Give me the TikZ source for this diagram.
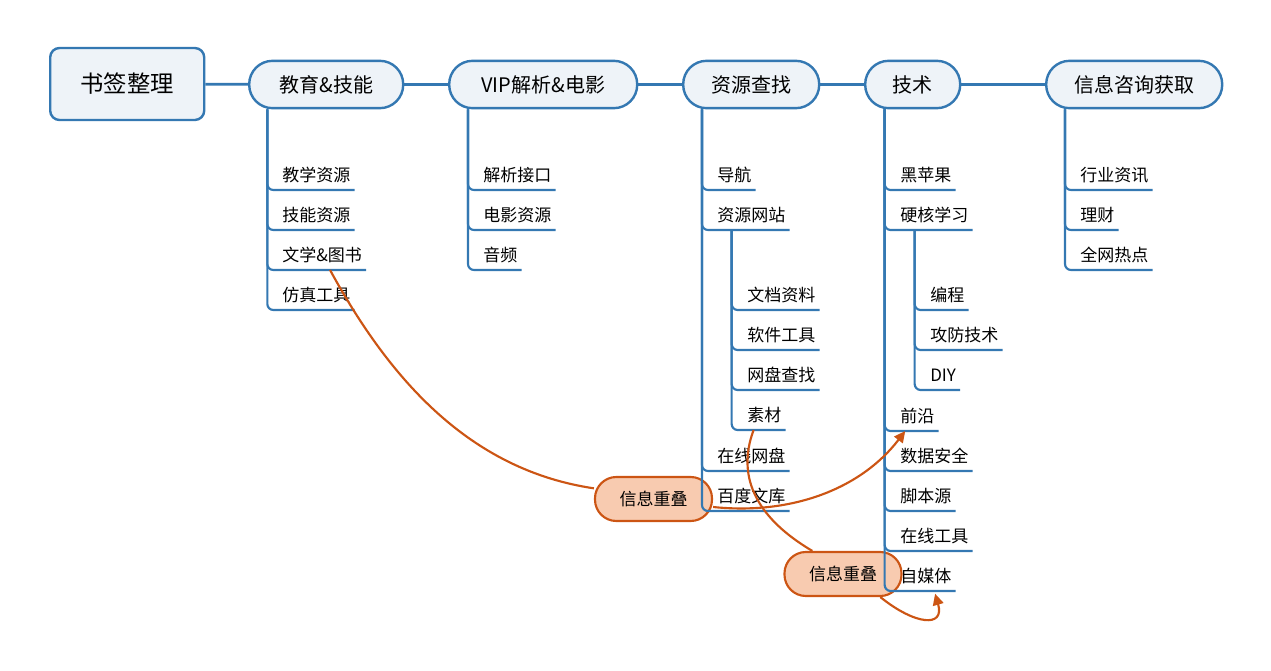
\documentclass[tikz,border=0pt]{standalone}
\usepackage{fontspec}
\setmainfont{Noto Sans CJK SC}
\usetikzlibrary{arrows.meta,positioning,calc}

\definecolor{mapblue}{RGB}{52,120,178}
\definecolor{mapfill}{RGB}{238,243,248}
\definecolor{linkred}{RGB}{204,85,20}
\definecolor{linkfill}{RGB}{248,203,176}

\tikzset{
  topic/.style={draw=mapblue,line width=1.8pt,fill=mapfill,rounded corners=17.5pt,
    minimum height=35.5pt,inner xsep=20pt,anchor=west,text=black,
    font=\fontsize{15}{18}\selectfont},
  rootbox/.style={topic,rounded corners=7pt,minimum width=115.5pt,minimum height=54pt,
    font=\fontsize{17.5}{21}\selectfont},
  item/.style={anchor=south west,inner xsep=3pt,inner ysep=4.5pt,text depth=1.5pt,
    text=black,font=\fontsize{12.75}{15}\selectfont},
  overlap/.style={draw=linkred,line width=1.6pt,fill=linkfill,rounded corners=16pt,
    minimum width=87.75pt,minimum height=33pt,text=black,
    font=\fontsize{12.75}{15}\selectfont},
  trunk/.style={draw=mapblue,line width=2pt},
  branch/.style={draw=mapblue,line width=1.6pt,rounded corners=4.5pt},
  link/.style={draw=linkred,line width=1.6pt},
  linkarrow/.style={link,-{Triangle[length=8.5pt,width=8pt]}}
}

\begin{document}
\begin{tikzpicture}[x=0.75pt,y=-0.75pt]
\useasboundingbox (0,0) rectangle (1271,671);

% Overlap markers (under the tree)
\node[overlap] (ov1) at (653.5,499) {信息重叠};
\node[overlap] (ov2) at (843,574) {信息重叠};

% Main topics
\node[rootbox] (root) at (49,84) {书签整理};
\node[topic,minimum width=115.5pt] (edu) at (248,84.5) {教育\&技能};
\node[topic,minimum width=141pt] (vip) at (448,84.5) {VIP解析\&电影};
\node[topic,minimum width=102pt] (res) at (682,84.5) {资源查找};
\node[topic,minimum width=71.25pt] (tech) at (864,84.5) {技术};
\node[topic,minimum width=132pt] (info) at (1045,84.5) {信息咨询获取};

\draw[trunk] (root) -- (edu);
\draw[trunk] (edu) -- (vip);
\draw[trunk] (vip) -- (res);
\draw[trunk] (res) -- (tech);
\draw[trunk] (tech) -- (info);

% Spine starts
\coordinate (eduS) at ([xshift=14.5pt]edu.south west);
\coordinate (vipS) at ([xshift=15pt]vip.south west);
\coordinate (resS) at ([xshift=15pt]res.south west);
\coordinate (techS) at ([xshift=15.5pt]tech.south west);
\coordinate (infoS) at ([xshift=15pt]info.south west);

% 教育&技能
\node[item] (jxzy) at (278,190) {教学资源};
\node[item] (jnzy) at (278,230) {技能资源};
\node[item] (wxts) at (278,270) {文学\&图书};
\node[item] (fzgj) at (278,310) {仿真工具};
\draw[branch] (eduS) |- (jxzy.south east);
\draw[branch] (eduS) |- (jnzy.south east);
\draw[branch] (eduS) |- (wxts.south east);
\draw[branch] (eduS) |- (fzgj.south east);

% VIP解析&电影
\node[item] (jxjk) at (479,190) {解析接口};
\node[item] (dyzy) at (479,230) {电影资源};
\node[item] (yp) at (479,270) {音频};
\draw[branch] (vipS) |- (jxjk.south east);
\draw[branch] (vipS) |- (dyzy.south east);
\draw[branch] (vipS) |- (yp.south east);

% 资源查找
\node[item] (dh) at (713,190) {导航};
\node[item] (zywz) at (713,230) {资源网站};
\node[item] (wdzl) at (743,310) {文档资料};
\node[item] (rjgj) at (743,350) {软件工具};
\node[item] (wpcz) at (743,390) {网盘查找};
\node[item] (sc) at (743,430) {素材};
\node[item] (zxwp) at (713,471) {在线网盘};
\node[item] (bdwk) at (713,511) {百度文库};
\coordinate (zywzS) at ([xshift=14pt]zywz.south west);
\draw[branch] (resS) |- (dh.south east);
\draw[branch] (resS) |- (zywz.south east);
\draw[branch] (resS) |- (zxwp.south east);
\draw[branch] (resS) |- (bdwk.south east);
\draw[branch] (zywzS) |- (wdzl.south east);
\draw[branch] (zywzS) |- (rjgj.south east);
\draw[branch] (zywzS) |- (wpcz.south east);
\draw[branch] (zywzS) |- (sc.south east);

% 技术
\node[item] (hpg) at (896,190) {黑苹果};
\node[item] (yhxx) at (896,230) {硬核学习};
\node[item] (bc) at (926,310) {编程};
\node[item] (gfjs) at (926,350) {攻防技术};
\node[item] (diy) at (926,390) {DIY};
\node[item] (qy) at (896,431) {前沿};
\node[item] (sjaq) at (896,471) {数据安全};
\node[item] (jby) at (896,511) {脚本源};
\node[item] (zxgj) at (896,551) {在线工具};
\node[item] (zmt) at (896,591) {自媒体};
\coordinate (yhxxS) at ([xshift=14pt]yhxx.south west);
\draw[branch] (techS) |- (hpg.south east);
\draw[branch] (techS) |- (yhxx.south east);
\draw[branch] (techS) |- (qy.south east);
\draw[branch] (techS) |- (sjaq.south east);
\draw[branch] (techS) |- (jby.south east);
\draw[branch] (techS) |- (zxgj.south east);
\draw[branch] (techS) |- (zmt.south east);
\draw[branch] (yhxxS) |- (bc.south east);
\draw[branch] (yhxxS) |- (gfjs.south east);
\draw[branch] (yhxxS) |- (diy.south east);

% 信息咨询获取
\node[item] (hyzx) at (1076,190) {行业资讯};
\node[item] (lc) at (1076,230) {理财};
\node[item] (qwrd) at (1076,270) {全网热点};
\draw[branch] (infoS) |- (hyzx.south east);
\draw[branch] (infoS) |- (lc.south east);
\draw[branch] (infoS) |- (qwrd.south east);

% Overlap links
\draw[link] ([xshift=6pt]wxts.south) .. controls (390,380) and (470,470) .. ([yshift=8pt]ov1.west);
\draw[linkarrow] ([yshift=-6pt]ov1.east) .. controls (790,515) and (860,490) .. ([xshift=-9pt]qy.south);
\draw[link] ([xshift=-8pt]sc.south) .. controls (735,480) and (760,520) .. ([xshift=-23pt]ov2.north);
\draw[linkarrow] ([xshift=28pt]ov2.south) .. controls (915,625) and (945,628) .. ([xshift=7pt,yshift=-2pt]zmt.south);
\end{tikzpicture}
\end{document}
